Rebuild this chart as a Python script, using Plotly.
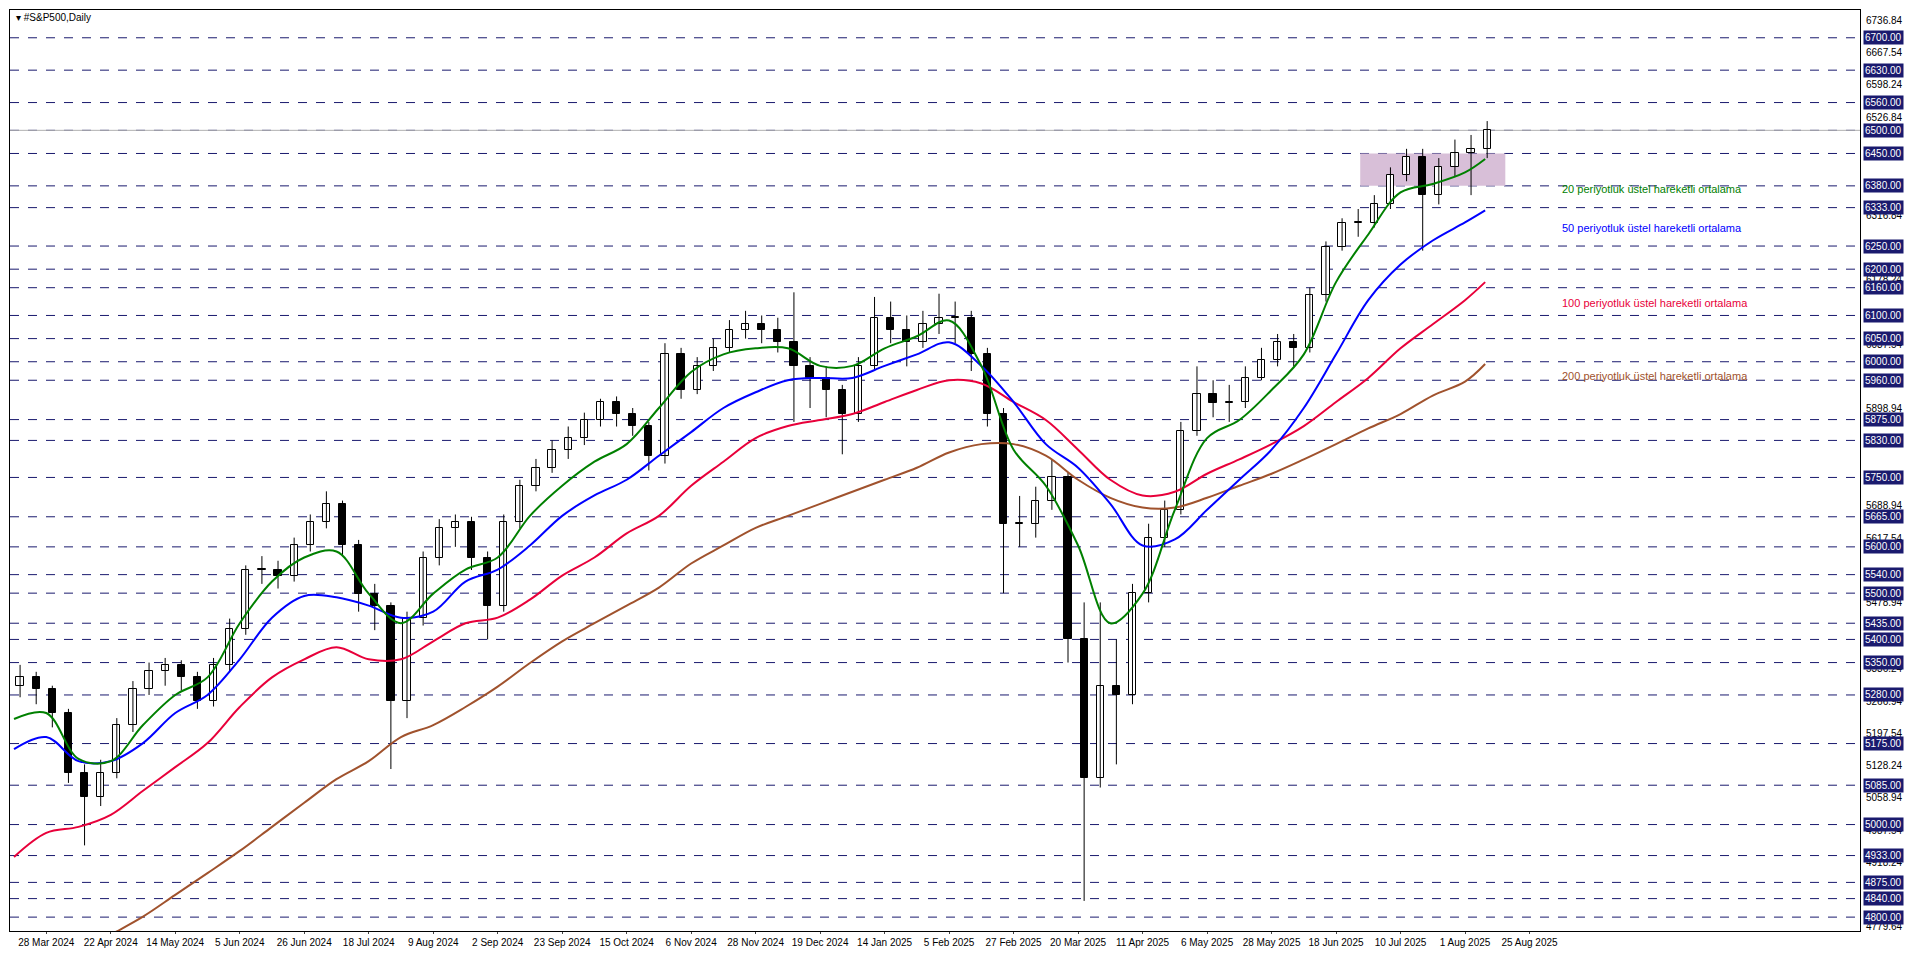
import plotly.graph_objects as go

# Daily bars sampled every 4 sessions (bar index = 4*k)
closes = [5318, 5292, 5241, 5111, 5060, 5111, 5215, 5292, 5331, 5344, 5318, 5266, 5344, 5422, 5551, 5551,
          5538, 5603, 5654, 5693, 5603, 5499, 5473, 5266, 5447, 5577, 5641, 5654, 5577, 5473, 5654, 5732,
          5771, 5810, 5835, 5874, 5913, 5887, 5861, 5797, 6016, 5939, 5991, 6029, 6068, 6081, 6068, 6042,
          5991, 5965, 5939, 5887, 5991, 6094, 6068, 6042, 6081, 6094, 6094, 6016, 5887, 5650, 5650, 5700,
          5750, 5400, 5100, 5300, 5280, 5500, 5620, 5680, 5850, 5930, 5910, 5913, 5965, 6003, 6042, 6029,
          6145, 6249, 6300, 6300, 6340, 6404, 6443, 6360, 6420, 6450, 6460, 6500]
highs = [5345, 5330, 5300, 5250, 5130, 5140, 5230, 5310, 5350, 5360, 5355, 5330, 5360, 5445, 5560, 5580,
         5570, 5620, 5670, 5720, 5700, 5615, 5520, 5480, 5460, 5590, 5660, 5670, 5665, 5590, 5670, 5745,
         5790, 5830, 5860, 5890, 5920, 5925, 5900, 5870, 6040, 6030, 6010, 6050, 6090, 6110, 6100, 6095,
         6150, 6010, 5990, 5950, 6010, 6140, 6130, 6100, 6110, 6147, 6130, 6110, 6030, 5900, 5710, 5730,
         5790, 5760, 5480, 5480, 5400, 5520, 5650, 5700, 5870, 5990, 5960, 5950, 5990, 6030, 6060, 6060,
         6160, 6260, 6310, 6330, 6360, 6420, 6460, 6460, 6440, 6480, 6490, 6520]
lows = [5275, 5260, 5210, 5090, 4955, 5040, 5100, 5200, 5280, 5300, 5290, 5250, 5255, 5330, 5410, 5520,
        5510, 5525, 5590, 5640, 5580, 5460, 5420, 5120, 5230, 5430, 5560, 5600, 5550, 5400, 5460, 5640,
        5720, 5760, 5790, 5820, 5860, 5860, 5840, 5765, 5780, 5920, 5930, 5980, 6020, 6050, 6040, 6020,
        5870, 5900, 5880, 5800, 5870, 5980, 6040, 5990, 6030, 6060, 6040, 5980, 5860, 5500, 5600, 5620,
        5680, 5350, 4835, 5080, 5130, 5260, 5480, 5600, 5670, 5840, 5880, 5870, 5900, 5960, 5990, 5990,
        6020, 6130, 6240, 6270, 6290, 6330, 6390, 6240, 6340, 6400, 6360, 6440]
first_open = 5300

# Moving averages sampled every 8 sessions (last point = bar 365)
ema_idx = list(range(0, 361, 8)) + [365]
ema20 = [5228, 5241, 5142, 5137, 5215, 5280, 5318, 5435, 5525, 5577, 5590, 5499, 5435, 5499, 5551, 5577,
         5667, 5732, 5784, 5822, 5900, 5978, 6016, 6029, 6029, 5991, 5991, 6029, 6055, 6089, 5991, 5810,
         5732, 5603, 5435, 5499, 5680, 5835, 5874, 5939, 6016, 6172, 6275, 6366, 6384, 6409, 6438]
ema50 = [5163, 5189, 5137, 5137, 5176, 5241, 5280, 5357, 5447, 5494, 5491, 5473, 5447, 5460, 5525, 5551,
         5603, 5667, 5711, 5745, 5797, 5848, 5900, 5934, 5960, 5965, 5965, 5991, 6016, 6042, 5991, 5913,
         5822, 5771, 5693, 5603, 5616, 5680, 5745, 5810, 5900, 6016, 6133, 6210, 6262, 6301, 6327]
ema100 = [4930, 4982, 4995, 5021, 5073, 5124, 5176, 5254, 5318, 5357, 5383, 5357, 5357, 5396, 5435, 5447,
          5486, 5538, 5577, 5629, 5667, 5732, 5784, 5835, 5861, 5874, 5887, 5913, 5939, 5960, 5953, 5913,
          5874, 5810, 5745, 5711, 5719, 5758, 5789, 5822, 5861, 5913, 5965, 6029, 6081, 6133, 6172]
ema200 = [4672, 4698, 4723, 4762, 4801, 4848, 4895, 4943, 4995, 5047, 5098, 5137, 5189, 5215, 5254, 5298,
          5349, 5396, 5435, 5473, 5512, 5564, 5603, 5641, 5667, 5693, 5719, 5745, 5771, 5804, 5822, 5822,
          5797, 5745, 5706, 5685, 5685, 5706, 5732, 5758, 5789, 5822, 5856, 5887, 5927, 5957, 5995]

ema_names = ["20 periyotluk üstel hareketli ortalama", "50 periyotluk üstel hareketli ortalama",
             "100 periyotluk üstel hareketli ortalama", "200 periyotluk üstel hareketli ortalama"]
ema_colors = ["#008000", "#0000ff", "#e8003a", "#a0522d"]
ema_label_y = [6373, 6288, 6128, 5970]

levels = [6700, 6630, 6560, 6500, 6450, 6380, 6333, 6250, 6200, 6160, 6100, 6050, 6000, 5960, 5875, 5830,
          5750, 5665, 5600, 5540, 5500, 5435, 5400, 5350, 5280, 5175, 5085, 5000, 4933, 4875, 4840, 4800]
scale_ticks = [6736.84, 6667.54, 6598.24, 6526.84, 6316.84, 6178.24, 6037.54, 5898.94, 5688.94, 5617.54,
               5478.94, 5336.24, 5266.94, 5197.54, 5128.24, 5058.94, 4987.54, 4918.24, 4779.64]
date_labels = ["28 Mar 2024", "22 Apr 2024", "14 May 2024", "5 Jun 2024", "26 Jun 2024", "18 Jul 2024",
               "9 Aug 2024", "2 Sep 2024", "23 Sep 2024", "15 Oct 2024", "6 Nov 2024", "28 Nov 2024",
               "19 Dec 2024", "14 Jan 2025", "5 Feb 2025", "27 Feb 2025", "20 Mar 2025", "11 Apr 2025",
               "6 May 2025", "28 May 2025", "18 Jun 2025", "10 Jul 2025", "1 Aug 2025", "25 Aug 2025"]
date_idx = [8 + 16 * i for i in range(len(date_labels))]
zone = (334, 370, 6380, 6450)

opens = [first_open] + closes[:-1]
bar_x = [4 * k + 1.5 for k in range(len(closes))]

fig = go.Figure()

fig.add_shape(type="rect", x0=zone[0], x1=zone[1], y0=zone[2], y1=zone[3],
              fillcolor="#d8bfd8", line_width=0, layer="below")
for lv in levels:
    fig.add_hline(y=lv, line=dict(color="#1a1a6e", width=1, dash="dash"), layer="below")
fig.add_hline(y=closes[-1], line=dict(color="#b0b0b0", width=1), layer="below")

# wicks
wx, wy = [], []
for x, h, l in zip(bar_x, highs, lows):
    wx += [x, x, None]
    wy += [l, h, None]
fig.add_trace(go.Scatter(x=wx, y=wy, mode="lines", line=dict(color="black", width=1),
                         showlegend=False, hoverinfo="skip"))
# bodies
base = [min(o, c) for o, c in zip(opens, closes)]
size = [max(abs(c - o), 2) for o, c in zip(opens, closes)]
fills = ["white" if c >= o else "black" for o, c in zip(opens, closes)]
fig.add_trace(go.Bar(x=bar_x, y=size, base=base, width=1.8, marker=dict(color=fills, line=dict(color="black", width=1)),
                     showlegend=False, hoverinfo="skip"))

for vals, col in zip([ema200, ema100, ema50, ema20], ema_colors[::-1]):
    fig.add_trace(go.Scatter(x=ema_idx, y=vals, mode="lines", line=dict(color=col, width=2, shape="spline"),
                             showlegend=False, hoverinfo="skip"))

annotations = []
for name, col, yv in zip(ema_names, ema_colors, ema_label_y):
    annotations.append(dict(x=0.838, xref="paper", y=yv, yref="y", text=name, showarrow=False,
                            xanchor="left", font=dict(color=col, size=11)))
for t in scale_ticks:
    annotations.append(dict(x=1, xref="paper", y=t, yref="y", text=f"{t:.2f}", showarrow=False,
                            xanchor="left", xshift=4, font=dict(color="black", size=10)))
for lv in levels:
    annotations.append(dict(x=1, xref="paper", y=lv, yref="y", text=f"{lv:.2f}", showarrow=False,
                            xanchor="left", xshift=3, bgcolor="#1a1a6e", borderpad=1,
                            font=dict(color="white", size=10)))
annotations.append(dict(x=0.002, xref="paper", y=1, yref="paper", yanchor="top", text="▾ #S&P500,Daily",
                        showarrow=False, xanchor="left", font=dict(color="black", size=10)))

fig.update_layout(
    width=1898, height=945,
    margin=dict(l=2, r=46, t=2, b=22),
    paper_bgcolor="white", plot_bgcolor="white",
    font=dict(family="Liberation Sans", size=10, color="black"),
    annotations=annotations, bargap=0,
    xaxis=dict(range=[-1, 458], tickmode="array", tickvals=date_idx, tickangle=0,
               ticktext=date_labels, showgrid=False, zeroline=False, showline=True, linecolor="black",
               ticks="outside", ticklen=2, tickfont=dict(size=10), mirror=True),
    yaxis=dict(range=[4770, 6760], showticklabels=False, showgrid=False, zeroline=False, showline=True,
               linecolor="black", mirror=True, side="right", ticks=""),
)

fig.write_html("out.html")
